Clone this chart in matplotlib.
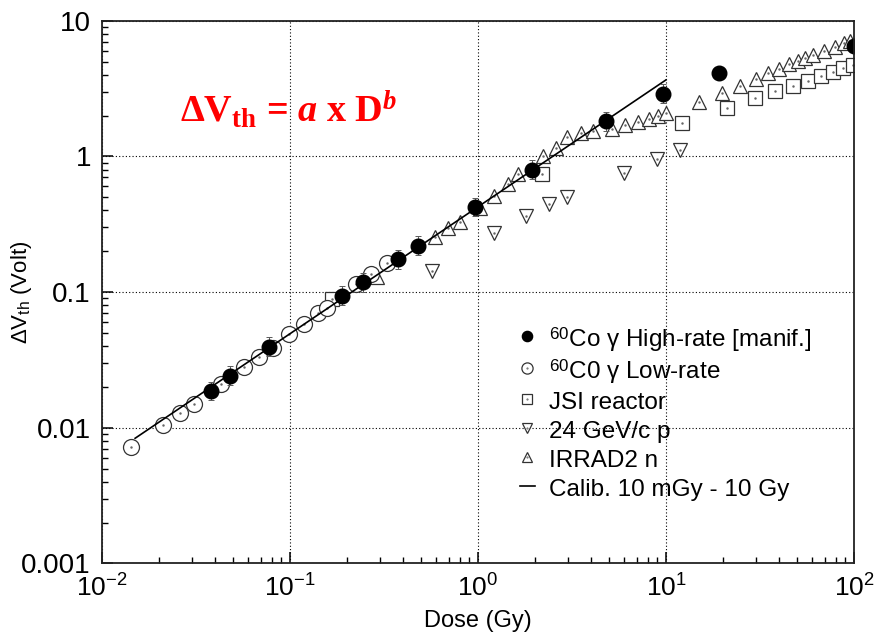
import numpy as np
import matplotlib
matplotlib.use('Agg')
import matplotlib.pyplot as plt
from matplotlib.ticker import LogLocator, FuncFormatter, NullFormatter

plt.rcParams['font.family'] = ['Liberation Sans', 'DejaVu Sans']
plt.rcParams['mathtext.fontset'] = 'custom'
plt.rcParams['mathtext.rm'] = 'Liberation Sans'
plt.rcParams['mathtext.it'] = 'Liberation Serif:italic:bold'

# 60Co gamma, high rate (filled circles)
hr_dose = [0.038, 0.048, 0.077, 0.19, 0.245, 0.375, 0.48, 0.965, 1.93, 4.8, 9.6, 19.2, 100]
hr_dv = [0.0187, 0.0242, 0.0396, 0.094, 0.118, 0.174, 0.22, 0.424, 0.80, 1.81, 2.90, 4.10, 6.5]

# 60Co gamma, low rate (open circles)
lr_dose = [0.0142, 0.0212, 0.026, 0.031, 0.043, 0.057, 0.068, 0.081, 0.099, 0.119,
           0.141, 0.157, 0.224, 0.27, 0.327]
lr_dv = [0.00726, 0.0104, 0.0128, 0.0151, 0.0209, 0.0282, 0.0334, 0.039, 0.0489, 0.0582,
         0.0698, 0.076, 0.114, 0.135, 0.163]

# JSI reactor (squares)
jsi_dose = [0.167, 2.18, 12.1, 21.0, 29.7, 38.0, 47.2, 57.1, 67.0, 77.6, 87.7, 99.1]
jsi_dv = [0.089, 0.738, 1.76, 2.29, 2.68, 3.05, 3.32, 3.62, 3.93, 4.21, 4.47, 4.72]

# 24 GeV/c protons (down triangles)
p_dose = [0.571, 1.21, 1.79, 2.39, 2.96, 6.0, 8.92, 11.9]
p_dv = [0.143, 0.274, 0.366, 0.444, 0.505, 0.759, 0.95, 1.12]

# IRRAD2 neutrons (up triangles)
n_dose = [0.289, 0.59, 0.695, 0.80, 1.025, 1.21, 1.45, 1.64, 2.23, 2.59, 2.99, 3.55, 4.10,
          5.14, 6.03, 7.10, 8.12, 9.10, 10.0, 15.0, 19.9, 24.9, 30.1, 35.0, 40.1, 45.3,
          50.6, 54.9, 60.8, 69.2, 79.6, 88.5, 95.2]
n_dv = [0.130, 0.256, 0.295, 0.330, 0.415, 0.513, 0.623, 0.742, 1.007, 1.15, 1.39, 1.49, 1.53,
        1.60, 1.71, 1.79, 1.88, 1.99, 2.07, 2.53, 2.94, 3.30, 3.74, 4.10, 4.41, 4.80,
        5.07, 5.34, 5.59, 5.98, 6.37, 6.80, 7.12]

# calibration fit end points
calib_dose = [0.015, 10]
calib_dv = [0.00837, 3.66]

err_frac = 0.17

fig = plt.figure(figsize=(8.74, 6.36), dpi=100)
ax = fig.add_axes([0.1167, 0.114, 0.8604, 0.8535])
ax.set_xscale('log')
ax.set_yscale('log')
ax.set_xlim(1e-2, 1e2)
ax.set_ylim(1e-3, 10)

ax.grid(True, which='major', color='black', linestyle=(0, (1, 2)), linewidth=0.8)
ax.set_axisbelow(True)

ec = '#333333'
mk = dict(linestyle='none', markerfacecolor='white', markeredgewidth=0.9)
dot = dict(linestyle='none', marker='.', markersize=1.5, color='0.4')

h_n, = ax.plot(n_dose, n_dv, marker='^', markersize=10.5, markeredgecolor=ec, **mk)
h_nd, = ax.plot(n_dose, n_dv, **dot)
h_p, = ax.plot(p_dose, p_dv, marker='v', markersize=10.5, markeredgecolor=ec, **mk)
h_pd, = ax.plot(p_dose, p_dv, **dot)
h_j, = ax.plot(jsi_dose, jsi_dv, marker='s', markersize=10, markeredgecolor=ec, **mk)
h_jd, = ax.plot(jsi_dose, jsi_dv, **dot)
h_l, = ax.plot(lr_dose, lr_dv, marker='o', markersize=11.5, markeredgecolor=ec, **mk)
h_ld, = ax.plot(lr_dose, lr_dv, **dot)

h_c, = ax.plot(calib_dose, calib_dv, color='black', linewidth=1.2)

hr_d = np.array(hr_dose)
hr_v = np.array(hr_dv)
sel = hr_d <= 10
ax.errorbar(hr_d[sel], hr_v[sel], yerr=[hr_v[sel] * (1 - 1 / (1 + err_frac)), hr_v[sel] * err_frac],
            fmt='none', ecolor='0.35', elinewidth=0.7, capsize=2.5, capthick=0.7)
h_h, = ax.plot(hr_dose, hr_dv, linestyle='none', marker='o', markersize=10.5,
               color='black')

ax.xaxis.set_major_locator(LogLocator(base=10, numticks=10))
ax.xaxis.set_minor_locator(LogLocator(base=10, subs=np.arange(2, 10), numticks=20))
ax.xaxis.set_minor_formatter(NullFormatter())
ax.yaxis.set_major_locator(LogLocator(base=10, numticks=10))
ax.yaxis.set_minor_locator(LogLocator(base=10, subs=np.arange(2, 10), numticks=20))
ax.yaxis.set_minor_formatter(NullFormatter())
ax.yaxis.set_major_formatter(FuncFormatter(lambda v, p: '%g' % v))

ax.tick_params(which='both', direction='in', top=False, right=False)
ax.tick_params(axis='y', labelsize=20)
ax.tick_params(axis='x', labelsize=19)
ax.tick_params(which='major', length=8, width=1.1, pad=8)
ax.tick_params(which='minor', length=4, width=1.0)
for s in ax.spines.values():
    s.set_linewidth(1.3)
    s.set_color('#222222')

ax.set_xlabel('Dose (Gy)', fontsize=17, labelpad=6)
ax.set_ylabel(r'$\Delta$V$_{\mathregular{th}}$ (Volt)', fontsize=16)
ax.yaxis.set_label_coords(-0.09, 0.5)

fig.text(180 / 874, 1 - 122 / 636,
         r'ΔV$_{\mathregular{th}}$ = $\mathit{a}$ x D$^{\mathit{b}}$',
         fontsize=27.5, color='red', family='Liberation Serif', weight='bold', va='baseline')

labels = [r'$^{\mathregular{60}}$Co γ High-rate [manif.]',
          r'$^{\mathregular{60}}$C0 γ Low-rate',
          'JSI reactor',
          '24 GeV/c p',
          'IRRAD2 n',
          'Calib. 10 mGy - 10 Gy']
ax.legend([h_h, (h_l, h_ld), (h_j, h_jd), (h_p, h_pd), (h_n, h_nd), h_c], labels,
          loc='upper left', bbox_to_anchor=(520 / 874, 1 - 325 / 636),
          bbox_transform=fig.transFigure, frameon=False, fontsize=17.5,
          markerscale=0.7, handlelength=0.6, handletextpad=0.6, labelspacing=0.12,
          handleheight=1.25, borderpad=0, borderaxespad=0)

fig.savefig('out.png', dpi=100)
